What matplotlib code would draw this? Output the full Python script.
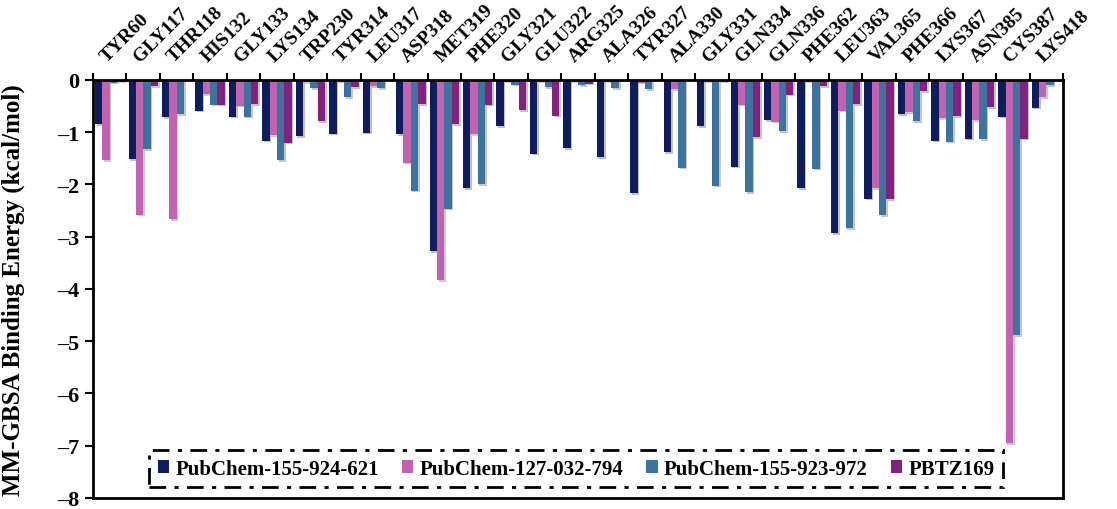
import matplotlib
matplotlib.use('Agg')
import matplotlib.pyplot as plt
import matplotlib.patheffects as pe
import numpy as np

plt.rcParams['font.family'] = ['Liberation Serif', 'DejaVu Serif']
plt.rcParams['font.weight'] = 'bold'

residues = ['TYR60', 'GLY117', 'THR118', 'HIS132', 'GLY133', 'LYS134', 'TRP230', 'TYR314',
            'LEU317', 'ASP318', 'MET319', 'PHE320', 'GLY321', 'GLU322', 'ARG325', 'ALA326',
            'TYR327', 'ALA330', 'GLY331', 'GLN334', 'GLN336', 'PHE362', 'LEU363', 'VAL365',
            'PHE366', 'LYS367', 'ASN385', 'CYS387', 'LYS418']

# MM-GBSA per-residue energies (kcal/mol)
pc_155_924_621 = [-0.85, -1.52, -0.71, -0.59, -0.70, -1.16, -1.07, -1.03, -1.01, -1.04,
                  -3.27, -2.07, -0.89, -1.41, -1.31, -1.48, -2.17, -1.38, -0.88, -1.66,
                  -0.77, -2.07, -2.93, -2.27, -0.66, -1.16, -1.12, -0.70, -0.53]
pc_127_032_794 = [-1.53, -2.58, -2.67, -0.27, -0.49, -1.06, -0.04, -0.02, -0.12, -1.58,
                  -3.83, -1.04, -0.03, -0.02, -0.02, -0.02, -0.05, -0.18, -0.02, -0.47,
                  -0.80, -0.03, -0.59, -2.07, -0.61, -0.73, -0.77, -6.95, -0.33]
pc_155_923_972 = [-0.05, -1.32, -0.66, -0.47, -0.70, -1.54, -0.16, -0.33, -0.16, -2.12,
                  -2.46, -1.99, -0.09, -0.14, -0.10, -0.16, -0.18, -1.68, -2.02, -2.15,
                  -0.98, -1.70, -2.83, -2.59, -0.79, -1.18, -1.13, -4.88, -0.10]
pbtz169 = [-0.02, -0.12, -0.01, -0.47, -0.46, -1.20, -0.79, -0.14, -0.01, -0.46,
           -0.85, -0.47, -0.58, -0.68, -0.07, -0.01, -0.01, -0.01, -0.02, -1.10,
           -0.28, -0.12, -0.46, -2.28, -0.22, -0.69, -0.52, -1.12, -0.01]

series = [pc_155_924_621, pc_127_032_794, pc_155_923_972, pbtz169]
names = ['PubChem-155-924-621', 'PubChem-127-032-794', 'PubChem-155-923-972', 'PBTZ169']
colors = ['#0f1d5c', '#c064b1', '#3e739e', '#81227f']

fig = plt.figure(figsize=(11.17, 5.10), dpi=100)
ax = fig.add_axes([0.0833, 0.0216, 0.8684, 0.8196])

x = np.arange(len(residues))
w = 0.22
all_bars = []
for i, (vals, name, c) in enumerate(zip(series, names, colors)):
    bars = ax.bar(x + (i - 1.5) * w, vals, w, color=c, label=name, zorder=2)
    all_bars.append(bars)

ax.set_xlim(-0.5, len(residues) - 0.5)
ax.set_ylim(-8, 0)

# labels on top, tick marks on group boundaries
ax.xaxis.tick_top()
ax.set_xticks(x)
ax.set_xticklabels(residues, rotation=45, ha='left', va='bottom',
                   rotation_mode='anchor', fontsize=14, fontweight='bold')
ax.set_xticks(np.arange(-0.5, len(residues) - 0.4, 1), minor=True)
ax.tick_params(axis='x', which='major', length=0, pad=11)
ax.tick_params(axis='x', which='minor', length=5, width=1.5, direction='out', top=True)

ax.set_yticks(np.arange(-8, 1, 1))
ax.set_yticklabels(['\u2013' + str(abs(v)) if v < 0 else str(v) for v in range(-8, 1)],
                   fontsize=16, fontweight='bold')
ax.tick_params(axis='y', length=6, width=1.5, pad=4)
ax.set_ylabel('MM-GBSA Binding Energy (kcal/mol)', fontsize=18, fontweight='bold')
ax.yaxis.set_label_coords(-0.07, 0.5)

for s in ax.spines.values():
    s.set_linewidth(2)

leg = ax.legend(loc='center', bbox_to_anchor=(0.498, 0.07), ncol=4,
                handlelength=0.55, handleheight=0.55, handletextpad=0.3, columnspacing=1.1,
                fancybox=False, borderpad=0.4, prop={'weight': 'bold', 'size': 15})
frame = leg.get_frame()
frame.set_edgecolor('black')
frame.set_linewidth(2)
frame.set_linestyle((0, (6, 3, 1.5, 3)))
frame.set_alpha(1)

# soft drop shadow on the bars (added after the legend so the keys stay flat)
shadow = [pe.SimplePatchShadow(offset=(1.2, -1.2), alpha=0.25), pe.Normal()]
for bars in all_bars:
    for b in bars:
        b.set_path_effects(shadow)

fig.savefig('out.png', dpi=100)
